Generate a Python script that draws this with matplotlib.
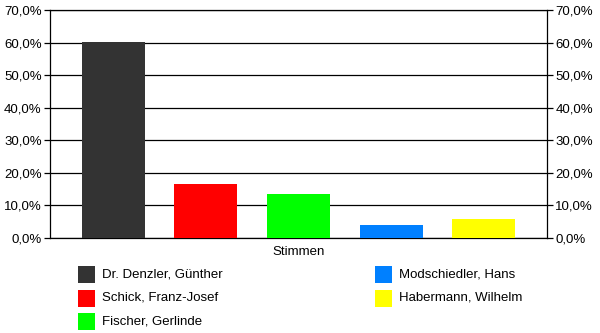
import matplotlib.pyplot as plt
from matplotlib.patches import Rectangle
from matplotlib.ticker import FuncFormatter

plt.rcParams['font.family'] = ['Liberation Sans', 'DejaVu Sans']

# Daten
kandidaten = ['Dr. Denzler, Günther', 'Schick, Franz-Josef', 'Fischer, Gerlinde',
              'Modschiedler, Hans', 'Habermann, Wilhelm']
anteile = [60.2, 16.6, 13.5, 4.0, 5.8]
farben = ['#333333', '#ff0000', '#00ff00', '#0080ff', '#ffff00']
kategorie = 'Stimmen'

W, H = 600, 333
fig = plt.figure(figsize=(W / 100, H / 100), dpi=100)
ax = fig.add_axes([50 / W, 1 - 238 / H, 497 / W, 228 / H])

for i, (wert, farbe) in enumerate(zip(anteile, farben)):
    ax.bar(i, wert, width=0.68, color=farbe, zorder=3)

ax.set_xlim(-0.68, 4.68)
ax.set_ylim(0, 70)
ax.set_yticks(range(0, 71, 10))
ax.yaxis.set_major_formatter(FuncFormatter(lambda v, p: f'{v:.1f}%'.replace('.', ',')))
ax.grid(axis='y', color='black', linewidth=0.9, zorder=0)
ax.set_xticks([])
ax.tick_params(axis='y', which='both', left=True, right=True, labelleft=True,
               labelright=True, length=4, width=0.9, labelsize=9.5, pad=2)
for s in ax.spines.values():
    s.set_linewidth(0.9)
ax.set_xlabel(kategorie, fontsize=9.5, labelpad=6)

# Legende
for i, (name, farbe) in enumerate(zip(kandidaten, farben)):
    spalte, zeile = i // 3, i % 3
    x = 78 + spalte * 297
    y = 274.5 + zeile * 23.5
    fig.patches.append(Rectangle((x / W, 1 - (y + 8.5) / H), 17 / W, 17 / H,
                                 transform=fig.transFigure, facecolor=farbe,
                                 edgecolor='none'))
    fig.text((x + 24) / W, 1 - y / H, name, fontsize=9.5, va='center', ha='left')

fig.savefig('out.png', dpi=100)
